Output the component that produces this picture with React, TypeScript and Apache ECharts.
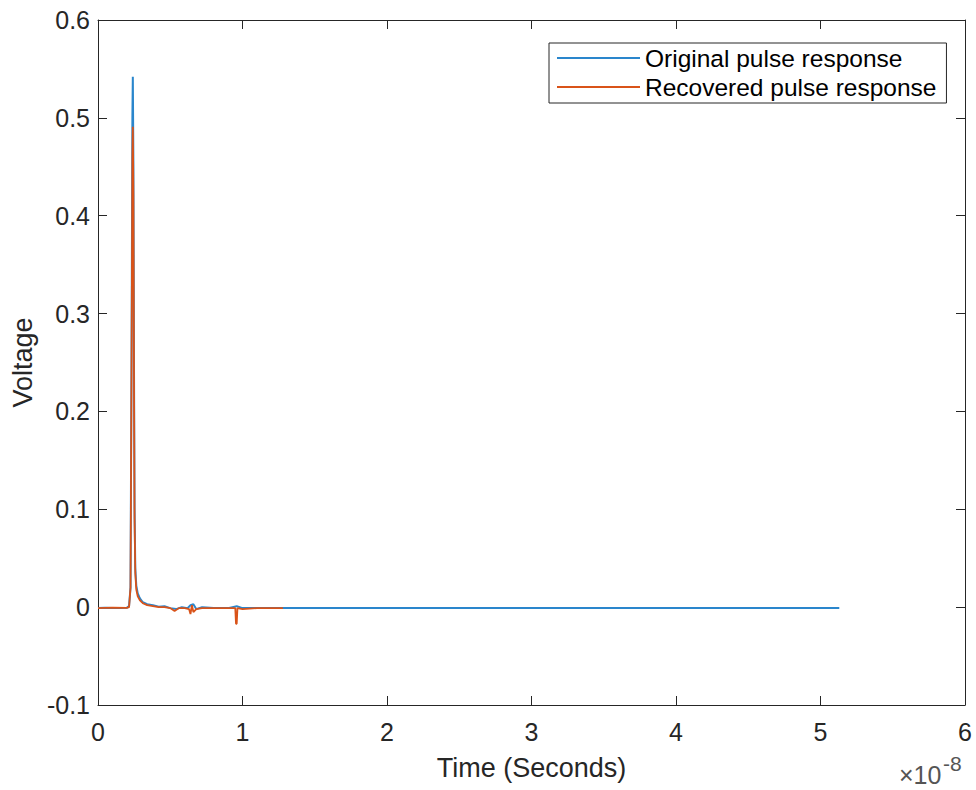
import React, { useEffect, useRef } from "react";
import * as echarts from "echarts";

// Time in units of 1e-8 s
const originalTime = [0, 0.05, 0.1, 0.15, 0.2, 0.215, 0.225, 0.232, 0.238, 0.241, 0.245, 0.249, 0.253, 0.258, 0.265, 0.275, 0.29, 0.31, 0.34, 0.38, 0.42, 0.46, 0.5, 0.54, 0.58, 0.62, 0.64, 0.66, 0.68, 0.72, 0.8, 0.9, 0.96, 1.0, 1.2, 1.5, 2, 3, 4, 5, 5.13];
const originalVoltage = [-0.001, -0.0005, -0.001, -0.0008, -0.0005, 0.001, 0.02, 0.25, 0.5, 0.542, 0.45, 0.25, 0.1, 0.04, 0.022, 0.014, 0.009, 0.005, 0.003, 0.002, 0.0005, 0.001, -0.001, -0.002, 0.0, -0.001, 0.002, 0.003, -0.002, 0.0, -0.001, -0.001, 0.001, -0.001, -0.001, -0.001, -0.001, -0.001, -0.001, -0.001, -0.001];

const recoveredTime = [0, 0.1, 0.2, 0.215, 0.225, 0.232, 0.238, 0.241, 0.245, 0.249, 0.253, 0.258, 0.265, 0.275, 0.29, 0.31, 0.34, 0.38, 0.42, 0.46, 0.5, 0.53, 0.56, 0.6, 0.63, 0.64, 0.65, 0.66, 0.68, 0.72, 0.8, 0.9, 0.95, 0.955, 0.96, 0.965, 1.0, 1.1, 1.2, 1.28];
const recoveredVoltage = [-0.001, -0.0005, -0.0008, 0.0, 0.02, 0.24, 0.46, 0.491, 0.42, 0.24, 0.09, 0.035, 0.018, 0.011, 0.007, 0.004, 0.002, 0.001, 0.0, 0.0, -0.001, -0.004, -0.001, -0.001, -0.002, -0.007, 0.002, -0.005, -0.002, -0.001, -0.001, -0.001, -0.001, -0.017, -0.017, -0.001, -0.002, -0.001, -0.001, -0.001];

const seriesNames = ["Original pulse response", "Recovered pulse response"];
const xTicks = { min: 0, max: 6, interval: 1 };
const yTicks = { min: -0.1, max: 0.6, interval: 0.1 };

const zip = (a: number[], b: number[]) => a.map((t, i) => [t, b[i]]);

export default function App() {
  const ref = useRef<HTMLDivElement>(null);
  useEffect(() => {
    if (!ref.current) return;
    const chart = echarts.init(ref.current, null, { renderer: "svg" });
    const axisColor = "#262626";
    const font = "Liberation Sans, Arial, Helvetica, sans-serif";
    const fmtY = (v: number) => {
      const r = Math.round(v * 10) / 10;
      return r === 0 ? "0" : String(r);
    };
    const boxAxis = {
      axisLine: { show: true, onZero: false, lineStyle: { color: axisColor, width: 1 } },
      axisTick: { show: true, inside: true, length: 9, lineStyle: { color: axisColor, width: 1 } },
      splitLine: { show: false },
    };
    chart.setOption({
      animation: false,
      backgroundColor: "#ffffff",
      textStyle: { fontFamily: font },
      grid: { left: 98, right: 11, top: 20, bottom: 85, containLabel: false },
      legend: {
        orient: "vertical",
        left: 549,
        top: 43,
        data: seriesNames,
        icon: "rect",
        itemWidth: 83,
        itemHeight: 2,
        itemGap: 1,
        padding: [1, 10, 2, 8],
        borderColor: axisColor,
        borderWidth: 1,
        backgroundColor: "#ffffff",
        textStyle: { fontSize: 24.5, color: "#000000", lineHeight: 28, fontFamily: font },
      },
      xAxis: [
        {
          type: "value",
          ...xTicks,
          position: "bottom",
          ...boxAxis,
          axisLabel: { show: true, fontSize: 25, color: axisColor, margin: 14, fontFamily: font },
          name: "Time (Seconds)",
          nameLocation: "middle",
          nameGap: 49,
          nameTextStyle: { fontSize: 27, color: axisColor, fontFamily: font },
        },
        {
          type: "value",
          ...xTicks,
          position: "top",
          ...boxAxis,
          axisLabel: { show: false },
        },
      ],
      yAxis: [
        {
          type: "value",
          ...yTicks,
          position: "left",
          ...boxAxis,
          axisLabel: { show: true, fontSize: 25, color: axisColor, margin: 8, formatter: fmtY, fontFamily: font },
          name: "Voltage",
          nameLocation: "middle",
          nameGap: 60,
          nameTextStyle: { fontSize: 27, color: axisColor, fontFamily: font },
        },
        {
          type: "value",
          ...yTicks,
          position: "right",
          ...boxAxis,
          axisLabel: { show: false },
        },
      ],
      series: [
        {
          name: seriesNames[0],
          type: "line",
          data: zip(originalTime, originalVoltage),
          showSymbol: false,
          symbol: "none",
          color: "#2a86cc",
          lineStyle: { width: 2, color: "#2a86cc" },
          xAxisIndex: 0,
          yAxisIndex: 0,
        },
        {
          name: seriesNames[1],
          type: "line",
          data: zip(recoveredTime, recoveredVoltage),
          showSymbol: false,
          symbol: "none",
          color: "#D95319",
          lineStyle: { width: 1.8, color: "#D95319" },
          xAxisIndex: 0,
          yAxisIndex: 0,
        },
      ],
      graphic: [
        {
          type: "text",
          left: 899,
          top: 762,
          style: { text: "×10", fontSize: 25, fill: "#555555", fontFamily: font },
        },
        {
          type: "text",
          left: 943,
          top: 753,
          style: { text: "-8", fontSize: 21, fill: "#555555", fontFamily: font },
        },
      ],
    });
    return () => chart.dispose();
  }, []);
  return (
    <div
      ref={ref}
      style={{ position: "absolute", left: 0, top: 0, width: 976, height: 790 }}
    />
  );
}
